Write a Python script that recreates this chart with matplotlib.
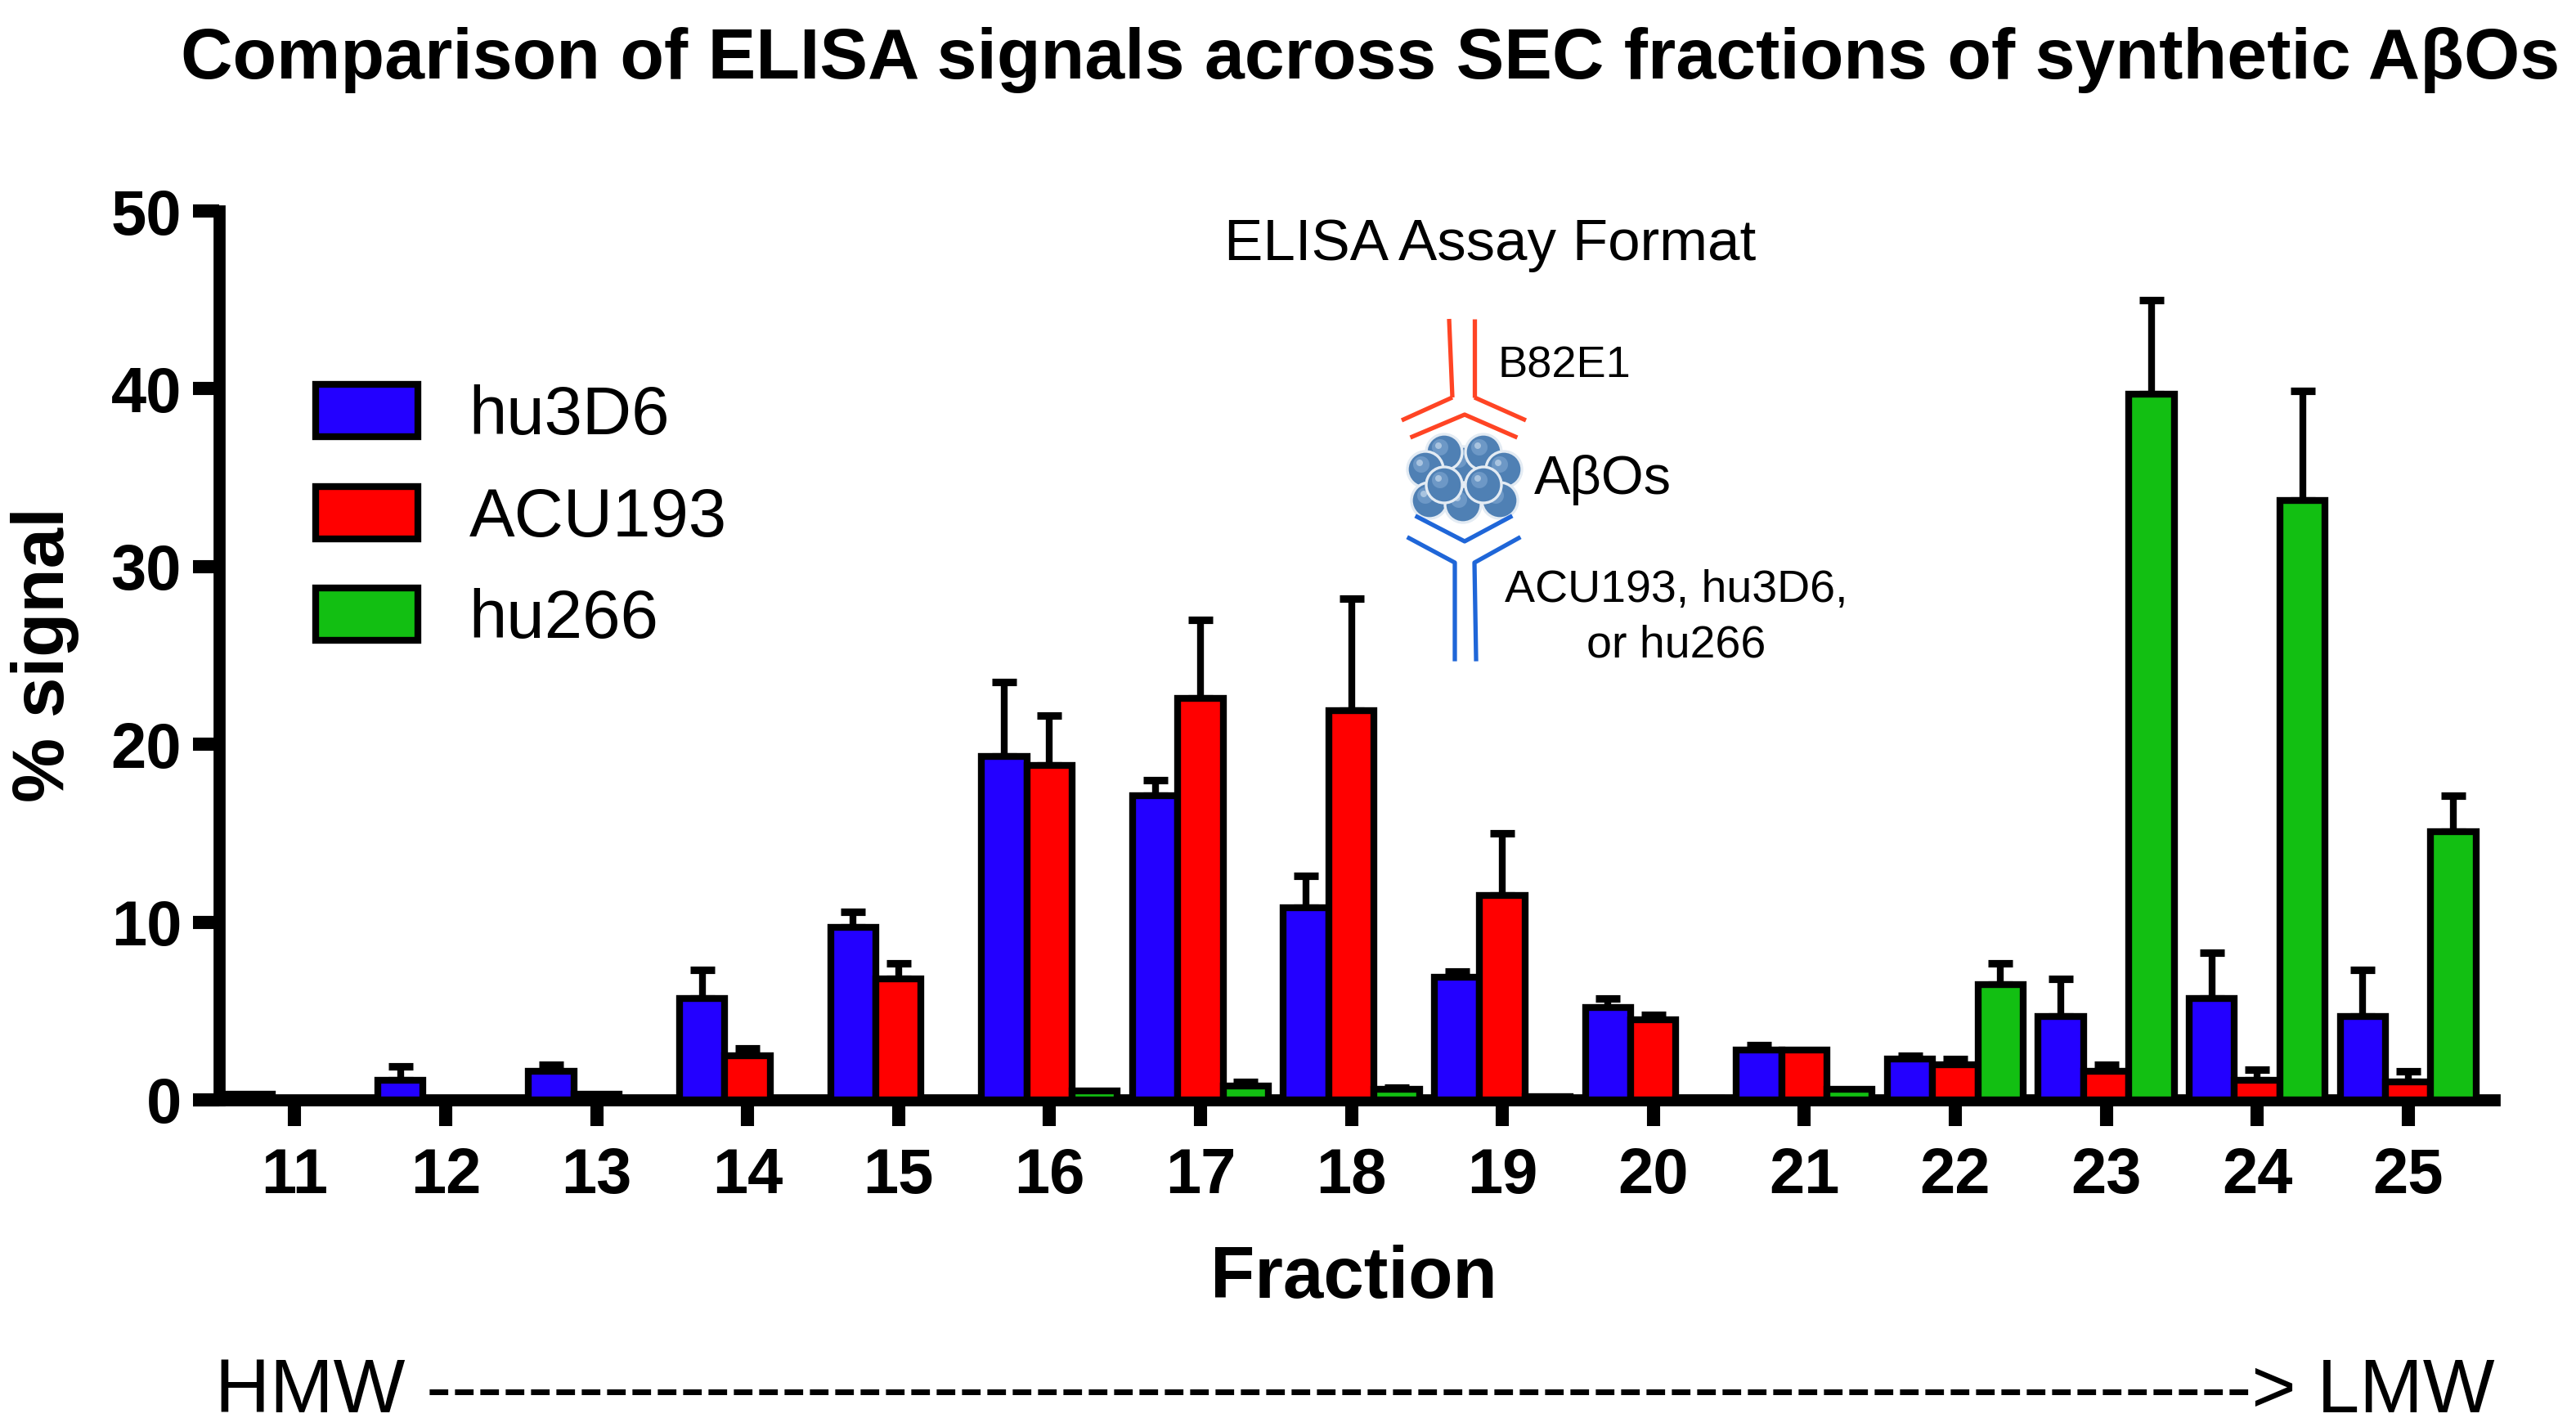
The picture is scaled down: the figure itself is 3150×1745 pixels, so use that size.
import numpy as np
import matplotlib
matplotlib.use("Agg")
import matplotlib.pyplot as plt
from matplotlib.patches import Circle

plt.rcParams['font.family'] = ['Liberation Sans', 'DejaVu Sans']

# data (% signal, mean and upper SD)
fractions = [11, 12, 13, 14, 15, 16, 17, 18, 19, 20, 21, 22, 23, 24, 25]
series = ['hu3D6', 'ACU193', 'hu266']
hu3D6 = [0.3, 1.1, 1.6, 5.7, 9.7, 19.3, 17.1, 10.8, 6.9, 5.2, 2.8, 2.3, 4.7, 5.7, 4.7]
hu3D6_sd = [0, 0.8, 0.4, 1.6, 0.9, 4.2, 0.9, 1.8, 0.3, 0.5, 0.3, 0.2, 2.1, 2.6, 2.6]
acu193 = [0.0, 0.0, 0.3, 2.5, 6.8, 18.8, 22.6, 21.9, 11.5, 4.5, 2.8, 2.0, 1.6, 1.1, 1.0]
acu193_sd = [0, 0, 0, 0.4, 0.9, 2.8, 4.4, 6.3, 3.5, 0.3, 0, 0.3, 0.4, 0.6, 0.6]
hu266 = [0, 0, 0, 0, 0, 0.5, 0.8, 0.6, 0.2, 0.1, 0.6, 6.5, 39.7, 33.7, 15.1]
hu266_sd = [0, 0, 0, 0, 0, 0, 0.2, 0.1, 0, 0, 0, 1.2, 5.3, 6.2, 2.0]
yticks = [0, 10, 20, 30, 40, 50]

colors = ['#2300ff', '#ff0000', '#12bf12']
W, H = 3150, 1745


def fx(px):
    return px / W


def fy(py):
    return 1 - py / H


fig = plt.figure(figsize=(W / 200, H / 200), dpi=200)
ax = fig.add_axes([fx(268), fy(1345), fx(3050 - 268), (1345 - 258) / H])

x = np.array(fractions, dtype=float)
bw = 0.3
handles = []
for k, (vals, sd) in enumerate([(hu3D6, hu3D6_sd), (acu193, acu193_sd), (hu266, hu266_sd)]):
    xs = x + (k - 1) * bw
    vals = np.array(vals)
    sd = np.array(sd)
    b = ax.bar(xs, vals, width=bw, color=colors[k], edgecolor='black', linewidth=3,
               zorder=3, label=series[k])
    handles.append(b)
    m = sd > 0
    ax.errorbar(xs[m], vals[m], yerr=[np.zeros(m.sum()), sd[m]], fmt='none', ecolor='black',
                elinewidth=3, capsize=5.5, capthick=3.3, zorder=2)

ax.set_xlim(10.5, 25.57)
ax.set_ylim(0, 50)
ax.set_xticks(fractions)
ax.set_yticks(yticks)
ax.set_xticklabels([str(f) for f in fractions], fontsize=28, fontweight='bold')
ax.set_yticklabels([str(t) for t in yticks], fontsize=28, fontweight='bold')
for s in ['top', 'right']:
    ax.spines[s].set_visible(False)
for s in ['left', 'bottom']:
    ax.spines[s].set_linewidth(5.3)
    ax.spines[s].set_capstyle('projecting')
ax.tick_params(axis='both', direction='out', length=11.5, width=5.8, color='black')
ax.tick_params(axis='x', pad=9)
ax.tick_params(axis='y', pad=5)

fig.text(fx(55), fy(801), '% signal', rotation=90, fontsize=32, fontweight='bold',
         ha='center', va='center')
fig.text(fx(1655), fy(1587), 'Fraction', fontsize=32, fontweight='bold',
         ha='center', va='baseline')

ax.legend(handles=handles, labels=series, loc='upper left', bbox_to_anchor=(fx(386), fy(470)),
          bbox_transform=fig.transFigure, frameon=False, fontsize=30, handlelength=1.5,
          handleheight=0.8, handletextpad=0.75, labelspacing=0.56, borderpad=0, borderaxespad=0)

# title, fitted to the width of the reference
title = fig.text(fx(221), fy(96), 'Comparison of ELISA signals across SEC fractions of synthetic A\u03b2Os',
                 fontsize=35, fontweight='bold', ha='left', va='baseline')
fig.canvas.draw()
tw = title.get_window_extent().width
title.set_fontsize(35 * 2909 / tw)

# HMW ---> LMW line, dash count and size fitted to the reference width
r = fig.canvas.get_renderer()
probe = fig.text(0, 0, 'HMW  > LMW', fontsize=33)
w_ends = probe.get_window_extent(r).width
probe.set_text('-' * 20)
w_dash = probe.get_window_extent(r).width / 20
probe.remove()
n_dash = int(round((3055 - 263 - w_ends) / w_dash))
mw = fig.text(fx(263), fy(1727), 'HMW ' + '-' * n_dash + '> LMW', fontsize=33, ha='left', va='baseline')
mw.set_fontsize(33 * (3055 - 263) / mw.get_window_extent(r).width)

# assay format schematic (drawn in pixel coordinates of the reference)
sx = fig.add_axes([fx(1650), fy(820), fx(2300 - 1650), (820 - 240) / H])
sx.set_xlim(1650, 2300)
sx.set_ylim(820, 240)
sx.axis('off')

red = '#ff4424'
blue = '#1f66d8'
for (x0, y0, x1, y1) in [(1772, 390, 1776, 486), (1803, 390, 1803, 486),
                         (1776, 486, 1714, 514), (1803, 486, 1866, 514)]:
    sx.plot([x0, x1], [y0, y1], color=red, lw=1.9, solid_capstyle='butt')
sx.plot([1727, 1791, 1853], [534, 507, 534], color=red, lw=1.9)
sx.plot([1733, 1791, 1847], [632, 662, 632], color=blue, lw=1.9)
sx.plot([1723, 1779, 1779], [658, 688, 806], color=blue, lw=1.9)
sx.plot([1857, 1803, 1805], [658, 688, 806], color=blue, lw=1.9)

spheres = [(1789, 568), (1766, 553), (1814, 553), (1743, 574), (1839, 574),
           (1748, 612), (1834, 612), (1789, 617), (1766, 593), (1814, 593)]
for (cx, cy) in spheres:
    sx.add_patch(Circle((cx, cy), 22, facecolor='#4f80b4', edgecolor='#e3ebf3', lw=1.2))
    sx.add_patch(Circle((cx - 5, cy - 6), 10, facecolor='#6d98c6', edgecolor='none'))
    sx.add_patch(Circle((cx - 7, cy - 8), 4, facecolor='#a9c4e0', edgecolor='none'))

sx.text(1822, 318, 'ELISA Assay Format', fontsize=25.5, ha='center', va='baseline')
sx.text(1832, 462, 'B82E1', fontsize=19.5, ha='left', va='baseline')
sx.text(1876, 604, 'A\u03b2Os', fontsize=24, ha='left', va='baseline')
sx.text(2050, 736, 'ACU193, hu3D6,', fontsize=20, ha='center', va='baseline')
sx.text(2050, 804, 'or hu266', fontsize=20, ha='center', va='baseline')

fig.savefig('out.png', dpi=200)
